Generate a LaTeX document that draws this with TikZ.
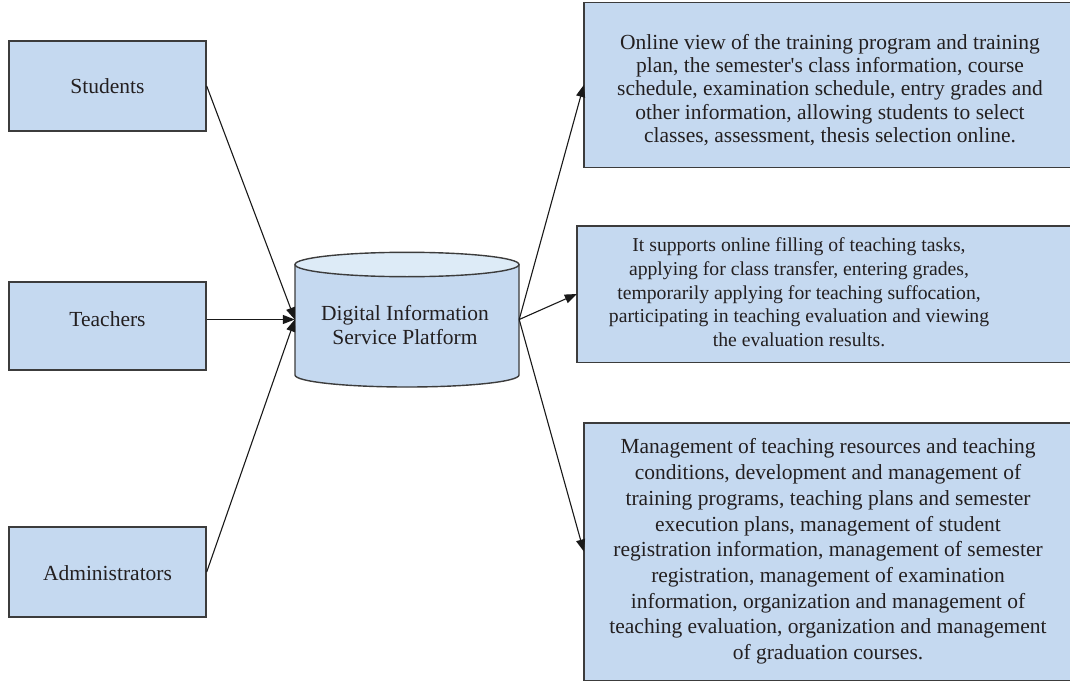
\documentclass[tikz,border=0pt]{standalone}
\usepackage{fontspec}
\setmainfont{Liberation Serif}
\usetikzlibrary{arrows.meta}
\definecolor{boxfill}{RGB}{197,217,240}
\definecolor{topfill}{RGB}{221,235,247}
\definecolor{edgec}{RGB}{60,60,60}
\definecolor{txt}{RGB}{35,31,32}
\begin{document}
\begin{tikzpicture}[x=1pt,y=1pt,
  box/.style={draw=edgec, line width=1.4pt, fill=boxfill, rectangle, inner sep=0pt},
  openbox/.style={fill=boxfill, rectangle, inner sep=0pt},
  rim/.style={draw=edgec, line width=1.4pt},
  lbl/.style={text=txt, align=center, inner sep=0pt, font=\fontsize{21.5}{23.4}\selectfont},
  conn/.style={draw=black!90, line width=1.1pt, -{Triangle[length=12pt,width=9pt]}}]
\useasboundingbox (0,0) rectangle (1070,-682);
\begin{scope}
\clip (0,0) rectangle (1070,-682);
% left boxes
\node[box, minimum width=197pt, minimum height=90pt] (st) at (107.5,-86) {};
\node[box, minimum width=197pt, minimum height=88pt] (te) at (107.5,-326) {};
\node[box, minimum width=197pt, minimum height=90pt] (ad) at (107.5,-572) {};
\node[lbl] (stl) at (107.5,-86) {Students};
\node[lbl] (tel) at (107.5,-319) {Teachers};
\node[lbl] (adl) at (107.5,-573) {Administrators};
% cylinder
\fill[boxfill] (295,-264.5) -- (295,-375) arc[start angle=180,end angle=360,x radius=112,y radius=12] -- (519,-264.5) -- cycle;
\draw[edgec, line width=1.4pt] (295,-264.5) -- (295,-375) arc[start angle=180,end angle=360,x radius=112,y radius=12] -- (519,-264.5);
\draw[edgec, line width=1.4pt, fill=topfill] (407,-264.5) ellipse[x radius=112, y radius=12.2];
\node[inner sep=0pt, minimum width=224pt, minimum height=123pt] (db) at (407,-319.5) {};
\node[lbl] (dbl) at (405,-325) {Digital Information\\Service Platform};
% right boxes (cut off by the right edge of the picture)
\node[openbox, minimum width=496pt, minimum height=164pt] (b1) at (832,-85) {};
\node[openbox, minimum width=503pt, minimum height=136pt] (b2) at (828.5,-294) {};
\node[openbox, minimum width=496pt, minimum height=257pt] (b3) at (832,-551.5) {};
\draw[rim] (b1.north east) -- (b1.north west) -- (b1.south west) -- (b1.south east);
\draw[rim] (b2.north east) -- (b2.north west) -- (b2.south west) -- (b2.south east);
\draw[rim] (b3.north east) -- (b3.north west) -- (b3.south west) -- (b3.south east);
\node[lbl] (b1l) at (830,-90) {Online view of the training program and training\\
plan, the semester\textquotesingle s class information, course\\
schedule, examination schedule, entry grades and\\
other information, allowing students to select\\
classes, assessment, thesis selection online.};
\node[lbl, font=\fontsize{19.7}{23.7}\selectfont] (b2l) at (799,-292.5) {It supports online filling of teaching tasks,\\
applying for class transfer, entering grades,\\
temporarily applying for teaching suffocation,\\
participating in teaching evaluation and viewing\\
the evaluation results.};
\node[lbl, font=\fontsize{21.5}{25.7}\selectfont] (b3l) at (828,-551.5) {Management of teaching resources and teaching\\
conditions, development and management of\\
training programs, teaching plans and semester\\
execution plans, management of student\\
registration information, management of semester\\
registration, management of examination\\
information, organization and management of\\
teaching evaluation, organization and management\\
of graduation courses.};
% connectors
\draw[conn] (st.east) -- (db.west);
\draw[conn] (te.east |- db.west) -- (db.west);
\draw[conn] (ad.east) -- (db.west);
\draw[conn] (db.east) -- (b1.west);
\draw[conn] (db.east) -- (b2.west);
\draw[conn] (db.east) -- (b3.west);
\end{scope}
\end{tikzpicture}
\end{document}
